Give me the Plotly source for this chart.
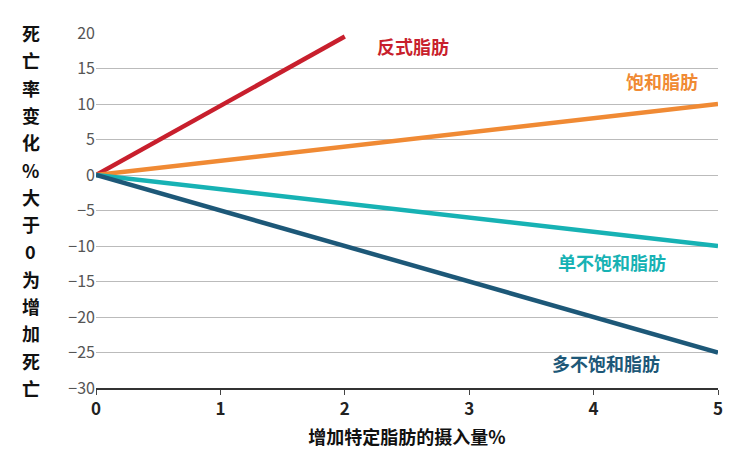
import plotly.graph_objects as go

x_trans = [0, 2]; y_trans = [0, 19.5]
x_sat = [0, 5]; y_sat = [0, 10]
x_mono = [0, 5]; y_mono = [0, -10]
x_poly = [0, 5]; y_poly = [0, -25]
names = ["反式脂肪", "饱和脂肪", "单不饱和脂肪", "多不饱和脂肪"]
colors = ["#c81f2d", "#f08a34", "#17b2b4", "#1d5878"]
label_pos = [(2.55, 18.2), (4.55, 13.2), (4.15, -12.3), (4.1, -26.5)]
y_ticks = list(range(-30, 21, 5))
x_ticks = [0, 1, 2, 3, 4, 5]
y_title = "死亡率变化%大于0为增加死亡"

fig = go.Figure()
for (xs, ys), c in zip([(x_trans, y_trans), (x_sat, y_sat), (x_mono, y_mono), (x_poly, y_poly)], colors):
    fig.add_trace(go.Scatter(x=xs, y=ys, mode="lines", line=dict(color=c, width=4.5), showlegend=False))
for n, c, (lx, ly) in zip(names, colors, label_pos):
    fig.add_annotation(x=lx, y=ly, text="<b>" + n + "</b>", showarrow=False,
                       font=dict(color=c, size=18, family="Noto Sans CJK SC"))
nch = len(y_title)
for i, ch in enumerate(y_title):
    fig.add_annotation(xref="paper", yref="paper", x=-0.105, y=1.0 - i * (1.0 / (nch - 1)) * 1.0,
                       text="<b>" + ch + "</b>", showarrow=False, xanchor="center", yanchor="middle",
                       font=dict(size=18, color="#111", family="Noto Sans CJK SC"))
fig.update_layout(
    width=744, height=475, margin=dict(l=88, r=34, t=16, b=95),
    plot_bgcolor="white", paper_bgcolor="white",
    font=dict(family="Noto Sans CJK SC"),
    xaxis=dict(range=[0, 5], tickvals=x_ticks, ticktext=["<b>%d</b>" % v for v in x_ticks],
               showgrid=False, showline=True, linecolor="#333", linewidth=1.5,
               ticks="outside", ticklen=5, tickfont=dict(size=17, color="#222"), zeroline=False,
               title=dict(text="<b>增加特定脂肪的摄入量%</b>", font=dict(size=18, color="#111"), standoff=12)),
    yaxis=dict(range=[-30, 20], tickvals=y_ticks, showgrid=True, gridcolor="#bbb", gridwidth=1,
               zeroline=False, tickfont=dict(size=16, color="#555"), ticks="", showline=False),
)
fig.write_html("out.html")
